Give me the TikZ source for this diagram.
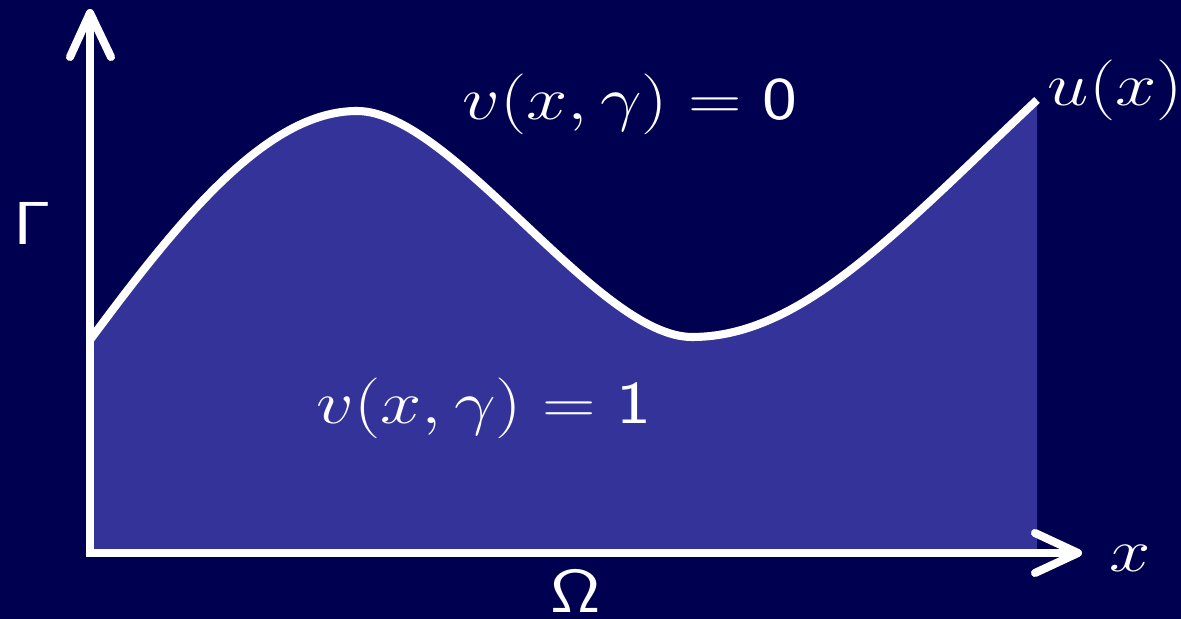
\documentclass[tikz,border=0pt]{standalone}
\definecolor{bgnavy}{RGB}{0,0,80}
\definecolor{fillblue}{RGB}{51,51,153}
\begin{document}
\begin{tikzpicture}[x=0.01cm,y=-0.01cm,
  lbl/.style={text=white, inner sep=0pt, xscale=1.22, font=\fontsize{17.6}{20}\selectfont},
  axisline/.style={white, line width=2.3pt},
  tipline/.style={white, line width=2.3pt, line cap=round, line join=round},
  curveline/.style={white, line width=2.3pt}]
\useasboundingbox (0,0) rectangle (1181,619);
\fill[bgnavy] (0,0) rectangle (1181,619);
% curve points
\coordinate (c0) at (90,340);
\coordinate (c1) at (357,111);
\coordinate (c2) at (692,337);
\coordinate (c3) at (1037,100);
\coordinate (o) at (90,553);
\coordinate (br) at (1037,553);
\coordinate (ytop) at (90,20);
\coordinate (ytip) at (90,13);
\coordinate (xend) at (1070,553);
\coordinate (xtip) at (1078,553);
% filled region
\fill[fillblue] (o) -- (c0) .. controls (180,218.5) and (267,111) .. (c1)
  .. controls (452,111) and (597,337) .. (c2)
  .. controls (802,337) and (897,231.6) .. (c3) -- (br) -- cycle;
% curve
\draw[curveline] (c0) .. controls (180,218.5) and (267,111) .. (c1)
  .. controls (452,111) and (597,337) .. (c2)
  .. controls (802,337) and (897,231.6) .. (c3);
% axes
\draw[axisline, line join=miter] (ytop) -- (o) -- (xend);
\draw[tipline] (70,57) -- (ytip) -- (111,57);
\draw[tipline] (1035,533) -- (xtip) -- (1035,573);
% labels
\node[lbl, anchor=base] (v0) at (630,120) {$v(x,\gamma)=\mathsf{0}$};
\node[lbl, anchor=base] (v1) at (484,424) {$v(x,\gamma)=\mathsf{1}$};
\node[lbl, anchor=base west] (u) at (1047,106) {$u(x)$};
\node[lbl, anchor=base] (xl) at (1130,572) {$x$};
\node[lbl, anchor=base] (G) at (32,245) {$\mathsf{\Gamma}$};
\node[lbl, anchor=base] (O) at (576,613) {$\mathsf{\Omega}$};
\end{tikzpicture}
\end{document}
